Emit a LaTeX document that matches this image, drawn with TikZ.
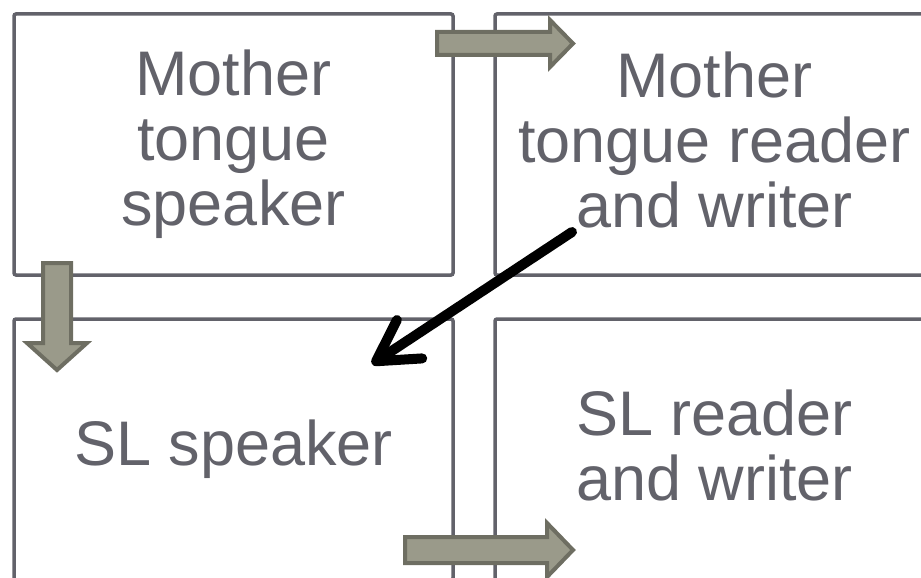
\documentclass[tikz,border=0pt]{standalone}
\usepackage{fontspec}
\setmainfont{Liberation Sans}
\usetikzlibrary{positioning, arrows.meta}
\definecolor{panelgray}{RGB}{98,98,106}
\definecolor{arrowfill}{RGB}{154,154,138}
\definecolor{arrowline}{RGB}{110,110,98}
\newcommand\lowstrut{\rule[-9pt]{0pt}{0pt}}
\tikzset{
    x=1pt, y=-1pt, % pixel-like units, y grows downwards
    panel/.style={draw=panelgray, line width=3.5pt, rounded corners=2pt, text=panelgray,
        minimum width=439pt, minimum height=261pt, align=center,
        font=\fontsize{63}{65}\selectfont,
        execute at end node=\lowstrut}, % the four boxes
    blockarrow/.style={fill=arrowfill, draw=arrowline, line width=4pt, line join=miter}, % grey fat arrows
    pointer/.style={line width=10pt, line cap=round, -{Straight Barb[round, length=40pt, width=46pt]}}, % black arrow
}
\begin{document}
\begin{tikzpicture}
\useasboundingbox (0,0) rectangle (921,578);
\clip (0,0) rectangle (921,578);
\node[panel] (mts) at (233.5,144.5) {Mother\\tongue\\speaker};
\node[panel, right=38.5pt of mts] (mtrw) {Mother\\tongue reader\\and writer};
\node[panel, below=40.5pt of mts] (sls) {SL speaker};
\node[panel, right=38.5pt of sls] (slrw) {SL reader\\and writer};
% grey block arrows
\draw[blockarrow] (437,32) -- (550,32) -- (550,20) -- (573,43.5) -- (550,67) -- (550,55) -- (437,55) -- cycle;
\draw[blockarrow] (43,263) -- (71,263) -- (71,343) -- (87,343) -- (57,370) -- (27,343) -- (43,343) -- cycle;
\draw[blockarrow] (405,537) -- (547,537) -- (547,523) -- (573,550) -- (547,577) -- (547,563) -- (405,563) -- cycle;
% black arrow
\coordinate (from) at (572,232);
\coordinate (to) at (372,364);
\draw[pointer] (from) -- (to);
\end{tikzpicture}
\end{document}
